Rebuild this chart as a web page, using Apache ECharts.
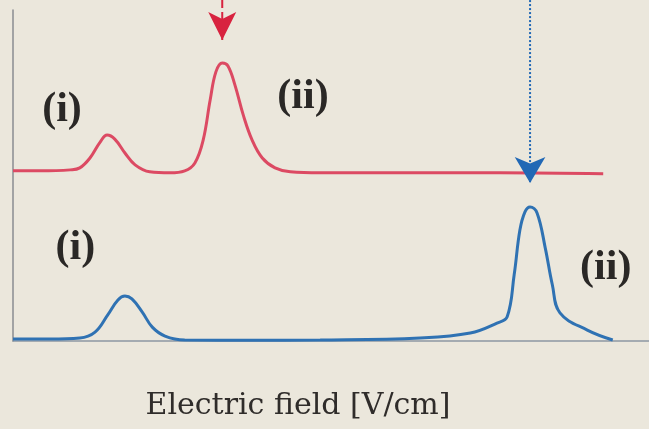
<!DOCTYPE html>
<html>
<head>
<meta charset="utf-8">
<script src="https://cdn.jsdelivr.net/npm/echarts@6/dist/echarts.min.js"></script>
<style>
  html, body { margin: 0; padding: 0; background: #ebe7dc; }
  #chart { width: 649px; height: 429px; }
</style>
</head>
<body>
<div id="chart"></div>
<script>
// Upper trace (red): field position vs. signal
const redX = [0, 4.3, 9.0, 10.5, 12.1, 13.7, 14.8, 16.0, 17.6, 19.2, 21.5, 24.7, 27.0, 28.6, 29.9, 31.0, 31.9, 32.9, 33.8, 34.9, 36.2, 37.6, 39.2, 41.2, 43.6, 48.3, 60.9, 76.6, 92.8];
const redY = [51.4, 51.4, 51.7, 52.3, 55.3, 60.1, 62.2, 61.0, 56.8, 53.2, 51.1, 50.8, 51.4, 53.8, 60.7, 72.8, 81.3, 84.0, 83.1, 77.3, 68.3, 60.7, 55.3, 52.3, 51.1, 50.8, 50.8, 50.8, 50.5];

// Lower trace (blue)
const blueX = [0, 5.8, 10.5, 12.9, 14.9, 16.5, 17.6, 18.7, 20.3, 21.9, 23.9, 27.0, 37.3, 48.3, 64.0, 71.9, 76.1, 77.7, 78.8, 79.7, 80.5, 81.3, 82.4, 83.7, 84.8, 86.0, 90.3, 94.3];
const blueY = [0.6, 0.6, 0.9, 2.7, 7.9, 12.4, 13.6, 12.7, 8.8, 4.2, 1.5, 0.3, 0.2, 0.3, 0.9, 2.4, 5.4, 7.3, 20.0, 33.5, 39.0, 40.5, 38.7, 28.0, 17.0, 8.5, 3.3, 0.3];

// Peak labels
const labelText = ['(i)', '(ii)', '(i)', '(ii)'];
const labelX = [7.7, 45.6, 9.8, 93.2];
const labelY = [69.8, 73.7, 28.1, 22.1];

// Arrows marking the peak positions: x, top of shaft, arrow tip
const arrowX = [32.9, 81.3];
const arrowTop = [103, 103];
const arrowTip = [90.9, 47.7];

const RED = '#dc4a63';
const BLUE = '#2f72b3';

const zip = (xs, ys) => xs.map((x, i) => [x, ys[i]]);

const arrowSeries = (i, color, dash, size) => ({
  type: 'line',
  clip: false,
  z: 5,
  silent: true,
  data: [
    { value: [arrowX[i], arrowTop[i]], symbol: 'none' },
    { value: [arrowX[i], arrowTip[i]], symbol: 'arrow', symbolSize: size, symbolRotate: 180 }
  ],
  lineStyle: { color: color, width: 2, type: dash },
  itemStyle: { color: color }
});

const chart = echarts.init(document.getElementById('chart'));
chart.setOption({
  backgroundColor: '#ebe7dc',
  animation: false,
  grid: { left: 13, right: 0, top: 10, bottom: 88 },
  xAxis: {
    type: 'value', min: 0, max: 100,
    axisLine: { show: true, lineStyle: { color: '#8d98a3', width: 1.5 } },
    axisTick: { show: false }, axisLabel: { show: false }, splitLine: { show: false },
    name: 'Electric field [V/cm]',
    nameLocation: 'middle',
    nameGap: 50,
    nameTextStyle: {
      fontFamily: 'DejaVu Serif', fontSize: 30, color: '#2f2c2a',
      padding: [0, 66, 0, 0]
    }
  },
  yAxis: {
    type: 'value', min: 0, max: 100,
    axisLine: { show: true, lineStyle: { color: '#8a8d92', width: 1.5 } },
    axisTick: { show: false }, axisLabel: { show: false }, splitLine: { show: false }
  },
  series: [
    {
      type: 'line', smooth: 0.4, clip: false, showSymbol: false,
      data: zip(redX, redY),
      lineStyle: { color: RED, width: 3 }
    },
    {
      type: 'line', smooth: 0.4, clip: false, showSymbol: false,
      data: zip(blueX, blueY),
      lineStyle: { color: BLUE, width: 3 }
    },
    arrowSeries(0, '#d8233f', 'dashed', [21, 28]),
    arrowSeries(1, '#2168b5', 'dotted', [23, 26]),
    {
      type: 'scatter', symbolSize: 0, silent: true,
      itemStyle: { opacity: 1, color: '#2c2a28' },
      data: labelText.map((t, i) => ({ value: [labelX[i], labelY[i]], name: t })),
      label: {
        show: true, position: 'inside',
        formatter: p => p.name,
        fontFamily: 'Liberation Serif', fontWeight: 'bold', fontSize: 42,
        color: '#2a2826', textBorderWidth: 0, opacity: 1
      }
    }
  ]
});
</script>
</body>
</html>
